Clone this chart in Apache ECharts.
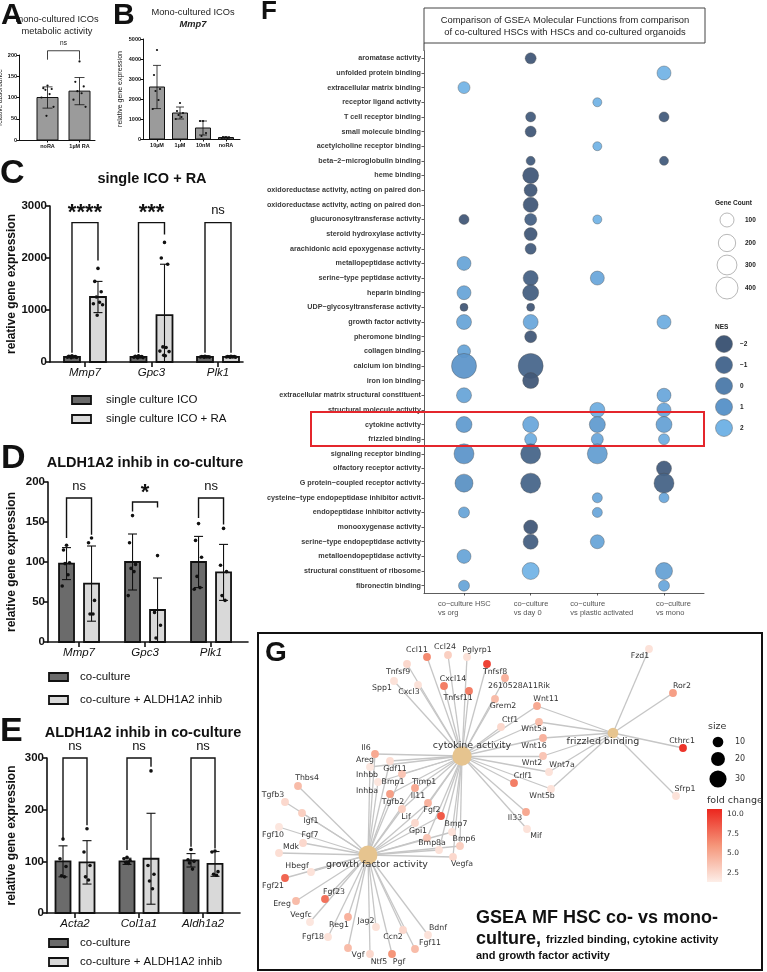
<!DOCTYPE html>
<html>
<head>
<meta charset="utf-8">
<script src="https://cdn.jsdelivr.net/npm/echarts@6/dist/echarts.min.js"></script>
<style>
  html, body { margin: 0; padding: 0; background: #fff; }
  #chart { width: 767px; height: 972px; }
</style>
</head>
<body>
<div id="chart"></div>
<script>
// ---------- A: metabolic activity ----------
const aCats = ['noRA', '1µM RA'];
const aMeans = [100, 115];
const aSds = [25, 32];
const aDots = [[128, 122, 120, 118, 108, 100, 78, 57], [185, 137, 126, 115, 110, 95, 78]];
const aBracket = [[0.5, 210, 189, 189]];
const aSig = ['ns'];

// ---------- B: Mmp7 dose ----------
const bCats = ['10µM', '1µM', '10nM', 'noRA'];
const bMeans = [2600, 1300, 550, 75];
const bSds = [1080, 300, 350, 20];
const bDots = [[4450, 3200, 2500, 2400, 1950, 1500], [1800, 1400, 1300, 1200, 1100, 1000], [900, 900, 300, 150], [100, 90, 80, 70, 60, 50]];

// ---------- C: single ICO + RA ----------
const cGenes = ['Mmp7', 'Gpc3', 'Plk1'];
const cGroups = ['single culture ICO', 'single culture ICO + RA'];
const cMeans = [[100, 100, 100], [1250, 900, 100]];
const cSds = [[15, 15, 8], [300, 980, 10]];
const cDots = [
  [[120, 112, 105, 100, 96, 92, 88, 82], [118, 110, 104, 100, 95, 90, 85, 80], [108, 105, 102, 100, 98, 96, 94, 92]],
  [[1800, 1550, 1350, 1250, 1150, 1120, 1100, 900], [2300, 2000, 1880, 290, 280, 210, 200, 130, 120], [110, 106, 103, 100, 98, 96, 93, 90]]
];
const cBrackets = [[0, 2680, 180, 1950], [1, 2680, 180, 2450], [2, 2680, 180, 180]];
const cSig = ['****', '***', 'ns'];

// ---------- D: ALDH1A2 inhib (Mmp7, Gpc3, Plk1) ----------
const dGenes = ['Mmp7', 'Gpc3', 'Plk1'];
const dGroups = ['co-culture', 'co-culture + ALDH1A2 inhib'];
const dMeans = [[98, 100, 100], [73, 40, 87]];
const dSds = [[20, 35, 32], [47, 40, 35]];
const dDots = [
  [[121, 115, 99, 98, 84, 70], [158, 124, 97, 92, 88, 58], [148, 127, 106, 82, 68, 66]],
  [[130, 124, 52, 35, 35], [108, 37, 21, 5], [142, 96, 88, 58, 52]]
];
const dBrackets = [[0, 180, 130, 134], [1, 175, 163, 168], [2, 180, 155, 147]];
const dSig = ['ns', '*', 'ns'];

// ---------- E: ALDH1A2 inhib (Acta2, Col1a1, Aldh1a2) ----------
const eGenes = ['Acta2', 'Col1a1', 'Aldh1a2'];
const eMeans = [[100, 100, 102], [98, 105, 95]];
const eSds = [[30, 6, 13], [42, 88, 24]];
const eDots = [
  [[143, 105, 90, 72, 70], [108, 105, 102, 98, 96], [123, 103, 100, 97, 85]],
  [[163, 118, 92, 70, 64], [275, 92, 75, 62, 47], [120, 118, 80, 75, 73]]
];
const eBrackets = [[0, 300, 145, 170], [1, 300, 122, 283], [2, 300, 128, 125]];
const eSig = ['ns', 'ns', 'ns'];

// ---------- F: GSEA molecular functions ----------
const fTerms = [
  'aromatase activity', 'unfolded protein binding', 'extracellular matrix binding', 'receptor ligand activity',
  'T cell receptor binding', 'small molecule binding', 'acetylcholine receptor binding', 'beta−2−microglobulin binding',
  'heme binding', 'oxidoreductase activity, acting on paired don', 'oxidoreductase activity, acting on paired don',
  'glucuronosyltransferase activity', 'steroid hydroxylase activity', 'arachidonic acid epoxygenase activity',
  'metallopeptidase activity', 'serine−type peptidase activity', 'heparin binding', 'UDP−glycosyltransferase activity',
  'growth factor activity', 'pheromone binding', 'collagen binding', 'calcium ion binding', 'iron ion binding',
  'extracellular matrix structural constituent', 'structural molecule activity', 'cytokine activity', 'frizzled binding',
  'signaling receptor binding', 'olfactory receptor activity', 'G protein−coupled receptor activity',
  'cysteine−type endopeptidase inhibitor activit', 'endopeptidase inhibitor activity', 'monooxygenase activity',
  'serine−type endopeptidase activity', 'metalloendopeptidase activity', 'structural constituent of ribosome',
  'fibronectin binding'
];
const fComparisons = ['co−culture HSC\nvs org', 'co−culture\nvs day 0', 'co−culture\nvs plastic activated', 'co−culture\nvs mono'];
// [term index, gene count, NES]
const fHscVsOrg = [[2, 56, 2], [11, 25, -2], [14, 100, 1.5], [16, 100, 1.5], [17, 6, -2], [18, 127, 1.5], [20, 77, 1.5],
  [21, 564, 1], [23, 127, 1.5], [25, 156, 1.2], [27, 306, 1], [29, 225, 0.8], [31, 39, 1.5], [34, 100, 1.5], [36, 39, 1.5]];
const fVsDay0 = [[0, 39, -2], [4, 25, -1.8], [5, 39, -2], [7, 14, -1.8], [8, 156, -2.2], [9, 77, -2.2], [10, 127, -2.2],
  [11, 56, -1.5], [12, 77, -2], [13, 39, -1.8], [15, 127, -1.5], [16, 156, -1.6], [17, 6, -2], [18, 127, 1.6], [19, 56, -2.2],
  [21, 564, -1.2], [22, 156, -2.2], [25, 156, 1.6], [26, 56, 1.8], [27, 306, -1.3], [29, 306, -1.3], [32, 100, -2.3],
  [33, 127, -1.6], [35, 189, 2]];
const fVsPlastic = [[3, 14, 2], [6, 14, 2], [11, 14, 2], [15, 100, 1.6], [24, 127, 1.8], [25, 156, 1.2], [26, 56, 1.6],
  [27, 306, 1.3], [30, 25, 1.6], [31, 25, 1.6], [33, 100, 1.5]];
const fVsMono = [[1, 100, 2], [4, 25, -1.8], [7, 14, -1.8], [18, 100, 1.8], [23, 100, 1.6], [24, 100, 1.6], [25, 156, 1.4],
  [26, 39, 1.8], [28, 127, -1.8], [29, 306, -1.4], [30, 25, 1.6], [35, 189, 1.4], [36, 39, 1.6]];
const fGeneCountTicks = [100, 200, 300, 400];
const fNesTicks = [-2, -1, 0, 1, 2];

// ---------- G: cnetplot ----------
const gTerms = ['cytokine activity', 'frizzled binding', 'growth factor activity'];
const gCytokineGenes = ['Ccl11', 'Ccl24', 'Pglyrp1', 'Tnfsf8', 'Tnfsf9', 'Spp1', 'Cxcl3', 'Cxcl14', 'Tnfsf11', '2610528A11Rik',
  'Grem2', 'Ctf1', 'Il6', 'Areg', 'Gdf11', 'Inhbb', 'Bmp1', 'Inhba', 'Timp1', 'Il11', 'Tgfb2', 'Fgf2', 'Lif', 'Gpi1', 'Bmp8a',
  'Bmp7', 'Bmp6', 'Vegfa', 'Wnt11', 'Wnt5a', 'Wnt16', 'Wnt2', 'Wnt7a', 'Crlf1', 'Wnt5b', 'Il33', 'Mif'];
const gFrizzledGenes = ['Fzd1', 'Ror2', 'Cthrc1', 'Sfrp1', 'Wnt11', 'Wnt5a', 'Wnt16', 'Wnt2', 'Wnt7a', 'Wnt5b'];
const gGrowthGenes = ['Thbs4', 'Tgfb3', 'Igf1', 'Fgf10', 'Fgf7', 'Mdk', 'Hbegf', 'Fgf21', 'Fgf23', 'Ereg', 'Vegfc', 'Reg1',
  'Jag2', 'Fgf18', 'Ccn2', 'Bdnf', 'Fgf11', 'Vgf', 'Ntf5', 'Pgf', 'Il6', 'Areg', 'Gdf11', 'Inhbb', 'Bmp1', 'Inhba', 'Timp1',
  'Il11', 'Tgfb2', 'Fgf2', 'Lif', 'Gpi1', 'Bmp8a', 'Bmp7', 'Bmp6', 'Vegfa'];
const gFoldChange = {
  Ccl11: 6.5, Ccl24: 3, Pglyrp1: 2, Tnfsf8: 9.5, Tnfsf9: 2.5, Spp1: 2, Cxcl3: 2, Cxcl14: 7, Tnfsf11: 7, '2610528A11Rik': 4.5,
  Grem2: 4, Ctf1: 2.5, Il6: 5, Areg: 1.8, Gdf11: 2.2, Inhbb: 1.8, Bmp1: 3.5, Inhba: 5.5, Timp1: 5, Il11: 4.5, Tgfb2: 3,
  Fgf2: 8.5, Lif: 2.5, Gpi1: 3.5, Bmp8a: 2, Bmp7: 2, Bmp6: 3, Vegfa: 2.5, Wnt11: 5, Wnt5a: 4, Wnt16: 4.5, Wnt2: 3.5,
  Wnt7a: 2, Crlf1: 7, Wnt5b: 2, Il33: 5, Mif: 2, Fzd1: 2, Ror2: 5.5, Cthrc1: 10, Sfrp1: 2, Thbs4: 4, Tgfb3: 2.5, Igf1: 3,
  Fgf10: 1.8, Fgf7: 2.5, Mdk: 2.2, Hbegf: 2, Fgf21: 8, Fgf23: 7.5, Ereg: 4, Vegfc: 1.8, Reg1: 4.5, Jag2: 2, Fgf18: 2,
  Ccn2: 2.5, Bdnf: 2, Fgf11: 4, Vgf: 4, Ntf5: 2.5, Pgf: 6
};
const gSizeTicks = [10, 20, 30];
const gFoldTicks = [10.0, 7.5, 5.0, 2.5];

// network layout: node x, node y, label x, label y
const gLayout = {
  'cytokine activity': [462, 756, 472, 746], 'frizzled binding': [613, 733, 603, 742],
  'growth factor activity': [368, 855, 377, 865],
  Ccl11: [427, 657, 417, 650], Ccl24: [448, 655, 445, 647], Pglyrp1: [467, 657, 477, 650], Tnfsf8: [487, 664, 495, 672],
  Tnfsf9: [407, 664, 398, 672], Spp1: [394, 681, 382, 688], Cxcl3: [418, 685, 409, 692], Cxcl14: [444, 686, 453, 679],
  Tnfsf11: [469, 691, 458, 698], '2610528A11Rik': [505, 678, 519, 686], Grem2: [495, 699, 503, 706], Ctf1: [501, 727, 510, 720],
  Il6: [375, 754, 366, 748], Areg: [370, 767, 365, 760], Gdf11: [390, 761, 395, 769], Inhbb: [378, 782, 367, 775],
  Bmp1: [402, 774, 393, 782], Inhba: [390, 794, 367, 791], Timp1: [415, 788, 424, 782], Il11: [428, 803, 418, 796],
  Tgfb2: [402, 809, 393, 802], Fgf2: [441, 816, 432, 810], Lif: [415, 823, 406, 817], Gpi1: [427, 838, 418, 831],
  Bmp8a: [439, 850, 432, 843], Bmp7: [452, 832, 456, 824], Bmp6: [460, 846, 464, 839], Vegfa: [453, 857, 462, 864],
  Wnt11: [537, 706, 546, 699], Wnt5a: [539, 722, 534, 729], Wnt16: [543, 738, 534, 746], Wnt2: [543, 756, 532, 763],
  Wnt7a: [549, 772, 562, 765], Crlf1: [514, 783, 523, 776], Wnt5b: [551, 789, 542, 796], Il33: [526, 812, 515, 818],
  Mif: [527, 829, 536, 836], Fzd1: [649, 649, 640, 656], Ror2: [673, 693, 682, 686], Cthrc1: [683, 748, 682, 741],
  Sfrp1: [676, 796, 685, 789], Thbs4: [298, 786, 307, 778], Tgfb3: [285, 802, 273, 795], Igf1: [302, 813, 311, 821],
  Fgf10: [279, 827, 273, 835], Fgf7: [303, 843, 310, 835], Mdk: [279, 853, 291, 847], Hbegf: [311, 872, 297, 866],
  Fgf21: [285, 878, 273, 886], Fgf23: [325, 899, 334, 892], Ereg: [296, 901, 282, 904], Vegfc: [310, 922, 301, 915],
  Reg1: [348, 917, 339, 925], Jag2: [376, 927, 366, 921], Fgf18: [328, 937, 313, 937], Ccn2: [403, 930, 393, 937],
  Bdnf: [428, 935, 438, 928], Fgf11: [415, 949, 430, 943], Vgf: [348, 948, 358, 955], Ntf5: [370, 954, 379, 962],
  Pgf: [392, 954, 399, 962]
};

const FONT = '"Liberation Sans", Arial, Helvetica, sans-serif';
const GFONT = '"DejaVu Sans", Verdana, sans-serif';
const JITTER = [0, -3.2, 3.2, -1.6, 1.6, -4.6, 4.6, -0.8, 0.8];

function mix(a, b, t) {
  return a.map((v, i) => Math.round(v + (b[i] - v) * t));
}
function rgb(c) { return `rgb(${c[0]},${c[1]},${c[2]})`; }

const NES_STOPS = [[66, 89, 120], [75, 107, 145], [84, 128, 173], [94, 150, 202], [116, 180, 230]];
function nesColor(v) {
  const x = Math.max(-2, Math.min(2, v)) + 2;
  const i = Math.min(3, Math.floor(x));
  return rgb(mix(NES_STOPS[i], NES_STOPS[i + 1], x - i));
}
function geneSize(count) { return 6 + 0.8 * Math.sqrt(count); }

const FC_MIN = 1.36, FC_MAX = 10.64;
function fcColor(v) {
  const t = Math.max(0, Math.min(1, (v - FC_MIN) / (FC_MAX - FC_MIN)));
  return t < 0.5 ? rgb(mix([253, 238, 232], [245, 150, 122], t * 2)) : rgb(mix([245, 150, 122], [236, 38, 30], t * 2 - 1));
}
function termSize(n) { return 7.5 + 0.32 * n; }

// ---------- builders ----------
function barSeries(grid, means, sds, dots, o) {
  const n = means.length;
  const data = [];
  means.forEach((row, s) => row.forEach((m, g) => data.push([g, m, sds[s][g], s])));
  return {
    type: 'custom', xAxisIndex: grid, yAxisIndex: grid, clip: false, silent: true, z: 3,
    data,
    renderItem(params, api) {
      const g = api.value(0), m = api.value(1), sd = api.value(2), s = api.value(3);
      const dx = (2 * s - (n - 1)) * o.off;
      const top = api.coord([g, m]), base = api.coord([g, 0]);
      const cx = top[0] + dx, hw = o.barW / 2;
      const hi = api.coord([g, m + sd])[1], lo = api.coord([g, Math.max(0, m - sd)])[1];
      const kids = [{
        type: 'rect', shape: { x: cx - hw, y: top[1], width: o.barW, height: base[1] - top[1] },
        style: { fill: o.fills[s], stroke: '#111', lineWidth: o.bw }
      }];
      dots[s][g].forEach((v, k) => {
        kids.push({
          type: 'circle',
          shape: { cx: cx + JITTER[k % JITTER.length] * o.barW / 16, cy: api.coord([g, v])[1], r: o.dotR },
          style: { fill: '#111' }
        });
      });
      const eb = { stroke: '#111', lineWidth: o.ew };
      kids.push({ type: 'line', shape: { x1: cx, y1: hi, x2: cx, y2: lo }, style: eb });
      kids.push({ type: 'line', shape: { x1: cx - o.cap, y1: hi, x2: cx + o.cap, y2: hi }, style: eb });
      kids.push({ type: 'line', shape: { x1: cx - o.cap, y1: lo, x2: cx + o.cap, y2: lo }, style: eb });
      return { type: 'group', children: kids };
    }
  };
}

function bracketSeries(grid, rows, labels, o) {
  return {
    type: 'custom', xAxisIndex: grid, yAxisIndex: grid, clip: false, silent: true, z: 4,
    data: rows,
    renderItem(params, api) {
      const x = api.value(0);
      const t = api.coord([x, api.value(1)]);
      const yl = api.coord([x, api.value(2)])[1], yr = api.coord([x, api.value(3)])[1];
      const xl = t[0] - o.off, xr = t[0] + o.off;
      const lab = labels[params.dataIndex];
      const star = lab.indexOf('*') >= 0;
      const fs = star ? o.starFs : o.fs;
      return {
        type: 'group', children: [
          { type: 'polyline', shape: { points: [[xl, yl], [xl, t[1]], [xr, t[1]], [xr, yr]] },
            style: { stroke: '#111', lineWidth: o.lw, fill: 'none' } },
          { type: 'text', style: {
              text: lab, x: t[0], y: t[1] - o.gap + (star ? fs * 0.12 : 0), align: 'center', verticalAlign: 'middle',
              fontFamily: FONT, fontSize: fs, fontWeight: star ? 'bold' : 'normal', fill: '#111' } }
        ]
      };
    }
  };
}

function catXAxis(grid, min, max, cats, o) {
  const idx = cats.map((_, i) => i);
  return {
    type: 'value', gridIndex: grid, min, max, splitLine: { show: false },
    axisLine: { show: true, onZero: false, lineStyle: { color: '#111', width: o.lw } },
    axisTick: { show: true, customValues: idx, length: o.tick, lineStyle: { color: '#111', width: o.lw } },
    axisLabel: {
      show: true, customValues: idx, formatter: v => cats[Math.round(v)] || '', fontSize: o.fs,
      fontStyle: o.italic ? 'italic' : 'normal', fontWeight: o.bold ? 'bold' : 'normal', color: '#111',
      margin: o.margin, fontFamily: FONT
    }
  };
}

function valYAxis(grid, max, interval, o) {
  return {
    type: 'value', gridIndex: grid, min: 0, max, interval, splitLine: { show: false },
    name: o.name, nameLocation: 'middle', nameGap: o.nameGap,
    nameTextStyle: { fontSize: o.nameFs, fontWeight: o.nameBold ? 'bold' : 'normal', color: '#111', fontFamily: FONT },
    axisLine: { show: true, onZero: false, lineStyle: { color: '#111', width: o.lw } },
    axisTick: { show: true, length: o.tick, lineStyle: { color: '#111', width: o.lw } },
    axisLabel: { show: true, formatter: v => String(v), fontSize: o.fs, fontWeight: 'bold', color: '#111', margin: o.margin, fontFamily: FONT }
  };
}

function txt(x, y, text, size, o = {}) {
  return {
    type: 'text', x, y, z: o.z || 10, silent: true,
    style: {
      text, fontSize: size, fontFamily: o.family || FONT, fontWeight: o.weight || 'normal',
      fontStyle: o.style || 'normal', fill: o.color || '#111', align: o.align || 'left', verticalAlign: o.va || 'middle'
    }
  };
}

function legendBoxes(x, ys, labels, fills, tx) {
  const out = [];
  ys.forEach((y, i) => {
    out.push({ type: 'rect', shape: { x, y: y - 4, width: 19, height: 8 }, z: 10, silent: true,
      style: { fill: fills[i], stroke: '#111', lineWidth: 1.8 } });
    out.push(txt(tx, y, labels[i], 11.5));
  });
  return out;
}

// ---------- F points ----------
const fData = [];
[fHscVsOrg, fVsDay0, fVsPlastic, fVsMono].forEach((col, c) => {
  col.forEach(([term, count, nes]) => fData.push([c + 1, term, count, nes]));
});
const fLabelWidths = [52, 34, 54, 16];
const fRich = {};
fLabelWidths.forEach((w, i) => {
  fRich['c' + i] = { width: w, align: 'left', fontSize: 7.5, color: '#555', fontFamily: FONT, lineHeight: 9.5 };
});

// ---------- G nodes and links ----------
const gGenes = [];
[gCytokineGenes, gFrizzledGenes, gGrowthGenes].forEach(list => list.forEach(g => { if (gGenes.indexOf(g) < 0) gGenes.push(g); }));
const gLinks = [];
[gCytokineGenes, gFrizzledGenes, gGrowthGenes].forEach((list, t) => list.forEach(g => gLinks.push({ source: gTerms[t], target: g })));
const gNodes = [];
gGenes.forEach(g => {
  const p = gLayout[g];
  gNodes.push({
    name: g, value: [p[0], p[1]], symbolSize: termSize(1),
    itemStyle: { color: fcColor(gFoldChange[g]) },
    label: { show: true, position: 'inside', offset: [p[2] - p[0], p[3] - p[1]], fontSize: 7.8, color: '#333', fontFamily: GFONT }
  });
});
[gCytokineGenes, gFrizzledGenes, gGrowthGenes].forEach((list, t) => {
  const p = gLayout[gTerms[t]];
  gNodes.push({
    name: gTerms[t], value: [p[0], p[1]], symbolSize: termSize(list.length),
    itemStyle: { color: '#e6c48f' },
    label: { show: true, position: 'inside', offset: [p[2] - p[0], p[3] - p[1]], fontSize: 9.5, color: '#333', fontFamily: GFONT }
  });
});

// ---------- graphics ----------
const graphics = [
  // panel letters
  txt(1, 15.5, 'A', 30, { weight: 'bold', z: 20 }),
  txt(113, 15.5, 'B', 30, { weight: 'bold', z: 20 }),
  txt(0, 174, 'C', 34, { weight: 'bold', z: 20 }),
  txt(1, 459, 'D', 34, { weight: 'bold', z: 20 }),
  txt(0, 732, 'E', 34, { weight: 'bold', z: 20 }),
  txt(261, 12, 'F', 26, { weight: 'bold', z: 20 }),
  txt(265, 653, 'G', 28, { weight: 'bold', z: 20 }),
  // A / B titles
  txt(57, 19, 'mono-cultured ICOs', 9.3, { align: 'center', color: '#222' }),
  txt(57, 31, 'metabolic activity', 9.3, { align: 'center', color: '#222' }),
  txt(193, 12, 'Mono-cultured ICOs', 9.3, { align: 'center', color: '#222' }),
  txt(193, 24, 'Mmp7', 9.3, { align: 'center', color: '#222', style: 'italic', weight: 'bold' }),
  // C / D / E titles
  txt(152, 179, 'single ICO + RA', 14.5, { align: 'center', weight: 'bold' }),
  txt(145, 463, 'ALDH1A2 inhib in co-culture', 14.5, { align: 'center', weight: 'bold' }),
  txt(143, 733, 'ALDH1A2 inhib in co-culture', 14.5, { align: 'center', weight: 'bold' }),
  ...legendBoxes(72, [400, 419], cGroups, ['#6b6b6b', '#d9d9d9'], 106),
  ...legendBoxes(49, [677, 700], dGroups, ['#6b6b6b', '#d9d9d9'], 80),
  ...legendBoxes(49, [943, 962], dGroups, ['#6b6b6b', '#d9d9d9'], 80),
  // F title box
  { type: 'rect', shape: { x: 424, y: 8, width: 281, height: 35 }, z: 5, silent: true,
    style: { fill: '#fff', stroke: '#444', lineWidth: 1 } },
  txt(565, 20, 'Comparison of GSEA Molecular Functions from comparison', 9.4, { align: 'center', color: '#222' }),
  txt(565, 32, 'of co-cultured HSCs with HSCs and co-cultured organoids', 9.4, { align: 'center', color: '#222' }),
  { type: 'line', shape: { x1: 424, y1: 43, x2: 424, y2: 51 }, z: 5, silent: true, style: { stroke: '#333', lineWidth: 1 } },
  // F highlight
  { type: 'rect', shape: { x: 311, y: 412, width: 393, height: 34 }, z: 30, silent: true,
    style: { fill: 'none', stroke: '#e4262c', lineWidth: 2 } },
  // F legends
  txt(715, 203, 'Gene Count', 6.5, { weight: 'bold', color: '#222' }),
  txt(715, 327, 'NES', 6.5, { weight: 'bold', color: '#222' }),
  // G box and text
  { type: 'rect', shape: { x: 258, y: 633, width: 504, height: 337 }, z: 1, silent: true,
    style: { fill: 'none', stroke: '#111', lineWidth: 2 } },
  txt(476, 918, 'GSEA MF HSC co- vs mono-', 18, { weight: 'bold' }),
  txt(476, 939, 'culture,', 18, { weight: 'bold' }),
  txt(546, 940, 'frizzled binding, cytokine activity', 11, { weight: 'bold' }),
  txt(476, 956, 'and growth factor activity', 11, { weight: 'bold' }),
  txt(708, 727, 'size', 9.5, { family: GFONT, color: '#333' }),
  txt(707, 801, 'fold change', 9.5, { family: GFONT, color: '#333' }),
  { type: 'rect', shape: { x: 707, y: 809, width: 15, height: 73 }, z: 10, silent: true,
    style: { fill: { type: 'linear', x: 0, y: 0, x2: 0, y2: 1, colorStops: [
      { offset: 0, color: fcColor(FC_MAX) }, { offset: 0.5, color: fcColor((FC_MAX + FC_MIN) / 2) }, { offset: 1, color: fcColor(FC_MIN) }] } } }
];
const gcY = [220, 243, 265, 288];
fGeneCountTicks.forEach((c, i) => {
  graphics.push({ type: 'circle', shape: { cx: 727, cy: gcY[i], r: geneSize(c) / 2 }, z: 10, silent: true,
    style: { fill: '#fff', stroke: '#888', lineWidth: 0.6 } });
  graphics.push(txt(745, gcY[i], String(c), 6.5, { weight: 'bold', color: '#222' }));
});
fNesTicks.forEach((v, i) => {
  graphics.push({ type: 'circle', shape: { cx: 724, cy: 344 + 21 * i, r: 8.5 }, z: 10, silent: true,
    style: { fill: nesColor(v), stroke: '#666', lineWidth: 0.5 } });
  graphics.push(txt(740, 344 + 21 * i, v < 0 ? '−' + Math.abs(v) : String(v), 6.5, { weight: 'bold', color: '#222' }));
});
const szY = [742, 759, 779];
gSizeTicks.forEach((n, i) => {
  graphics.push({ type: 'circle', shape: { cx: 718, cy: szY[i], r: termSize(n) / 2 }, z: 10, silent: true, style: { fill: '#000' } });
  graphics.push(txt(735, szY[i], String(n), 8, { family: GFONT, color: '#333' }));
});
gFoldTicks.forEach(v => {
  const y = 809 + (FC_MAX - v) / (FC_MAX - FC_MIN) * 73;
  graphics.push(txt(727, y, v.toFixed(1), 7.5, { family: GFONT, color: '#333' }));
});

// ---------- option ----------
const chart = echarts.init(document.getElementById('chart'));
const option = {
  animation: false,
  backgroundColor: '#fff',
  grid: [
    { left: 19, top: 55, width: 76, height: 85, outerBoundsMode: 'none' },     // A
    { left: 143, top: 39, width: 97, height: 100, outerBoundsMode: 'none' },   // B
    { left: 50, top: 206, width: 193, height: 156, outerBoundsMode: 'none' },  // C
    { left: 48, top: 482, width: 200, height: 160, outerBoundsMode: 'none' },  // D
    { left: 47, top: 758, width: 193, height: 155, outerBoundsMode: 'none' },  // E
    { left: 424, top: 51, width: 280, height: 542, outerBoundsMode: 'none' },  // F
    { left: 258, top: 633, width: 504, height: 338, outerBoundsMode: 'none' }  // G
  ],
  xAxis: [
    catXAxis(0, -0.891, 1.484, aCats, { lw: 1, tick: 2.5, fs: 5.5, bold: true, margin: 3 }),
    catXAxis(1, -0.609, 3.609, bCats, { lw: 1, tick: 2.5, fs: 5.5, bold: true, margin: 3 }),
    catXAxis(2, -0.526, 2.376, cGenes, { lw: 1.6, tick: 5, fs: 11.5, italic: true, margin: 5 }),
    catXAxis(3, -0.47, 2.56, dGenes, { lw: 1.6, tick: 5, fs: 11.5, italic: true, margin: 5 }),
    catXAxis(4, -0.4375, 2.578, eGenes, { lw: 1.6, tick: 5, fs: 11.5, italic: true, margin: 5 }),
    {
      type: 'value', gridIndex: 5, min: 0.4, max: 4.6, splitLine: { show: false },
      axisLine: { show: true, onZero: false, lineStyle: { color: '#333', width: 0.8 } },
      axisTick: { show: true, customValues: [1, 2, 3, 4], length: 2.5, lineStyle: { color: '#333', width: 0.8 } },
      axisLabel: {
        show: true, customValues: [1, 2, 3, 4], margin: 6, rich: fRich,
        formatter: v => {
          const i = Math.round(v) - 1;
          return fComparisons[i].split('\n').map(l => `{c${i}|${l}}`).join('\n');
        }
      }
    },
    { type: 'value', gridIndex: 6, min: 258, max: 762, show: false }
  ],
  yAxis: [
    valYAxis(0, 200, 50, { lw: 1, tick: 2.5, fs: 5.5, margin: 2, name: 'relative absorbance', nameGap: 13, nameFs: 6.5 }),
    valYAxis(1, 5000, 1000, { lw: 1, tick: 2.5, fs: 5.5, margin: 2, name: 'relative gene expression', nameGap: 19, nameFs: 7 }),
    valYAxis(2, 3000, 1000, { lw: 1.6, tick: 5, fs: 11.5, margin: 3, name: 'relative gene expression', nameGap: 32, nameFs: 12, nameBold: true }),
    valYAxis(3, 200, 50, { lw: 1.6, tick: 5, fs: 11.5, margin: 3, name: 'relative gene expression', nameGap: 30, nameFs: 12, nameBold: true }),
    valYAxis(4, 300, 100, { lw: 1.6, tick: 5, fs: 11.5, margin: 3, name: 'relative gene expression', nameGap: 29, nameFs: 12, nameBold: true }),
    {
      type: 'category', gridIndex: 5, data: fTerms, inverse: true,
      axisLine: { show: true, onZero: false, lineStyle: { color: '#333', width: 0.8 } },
      axisTick: { show: true, alignWithLabel: true, length: 2.5, lineStyle: { color: '#333', width: 0.8 } },
      axisLabel: { interval: 0, fontSize: 7.2, fontWeight: 'bold', color: '#3a3a3a', margin: 3, fontFamily: FONT },
      splitLine: { show: false }
    },
    { type: 'value', gridIndex: 6, min: 633, max: 971, inverse: true, show: false }
  ],
  graphic: graphics,
  series: [
    barSeries(0, [aMeans], [aSds], [aDots], { barW: 21, off: 0, fills: ['#9b9b9b'], bw: 1, ew: 0.8, cap: 5, dotR: 1.1 }),
    bracketSeries(0, aBracket, aSig, { off: 16, lw: 0.8, gap: 7.5, fs: 6.5, starFs: 10 }),
    barSeries(1, [bMeans], [bSds], [bDots], { barW: 15, off: 0, fills: ['#9b9b9b'], bw: 1, ew: 0.8, cap: 4, dotR: 1.1 }),
    barSeries(2, cMeans, cSds, cDots, { barW: 16, off: 13, fills: ['#6b6b6b', '#d9d9d9'], bw: 1.8, ew: 1.1, cap: 4.5, dotR: 1.8 }),
    bracketSeries(2, cBrackets, cSig, { off: 13, lw: 1.4, gap: 12, fs: 13, starFs: 22 }),
    barSeries(3, dMeans, dSds, dDots, { barW: 15, off: 12.5, fills: ['#6b6b6b', '#d9d9d9'], bw: 1.8, ew: 1.1, cap: 4.5, dotR: 1.8 }),
    bracketSeries(3, dBrackets, dSig, { off: 12.5, lw: 1.4, gap: 12, fs: 13, starFs: 22 }),
    barSeries(4, eMeans, eSds, eDots, { barW: 15, off: 12, fills: ['#6b6b6b', '#d9d9d9'], bw: 1.8, ew: 1.1, cap: 4.5, dotR: 1.8 }),
    bracketSeries(4, eBrackets, eSig, { off: 12, lw: 1.4, gap: 12, fs: 13, starFs: 22 }),
    {
      type: 'scatter', xAxisIndex: 5, yAxisIndex: 5, data: fData, silent: true, z: 3,
      symbolSize: v => geneSize(v[2]),
      itemStyle: { color: p => nesColor(p.value[3]), borderColor: '#4a4a4a', borderWidth: 0.4, opacity: 0.95 }
    },
    {
      type: 'graph', coordinateSystem: 'cartesian2d', xAxisIndex: 6, yAxisIndex: 6, silent: true, z: 3,
      data: gNodes, links: gLinks, symbol: 'circle',
      lineStyle: { color: '#c6c6c6', width: 1.3, opacity: 1, curveness: 0 },
      label: { show: true },
      emphasis: { disabled: true }
    }
  ]
};
chart.setOption(option);
</script>
</body>
</html>
